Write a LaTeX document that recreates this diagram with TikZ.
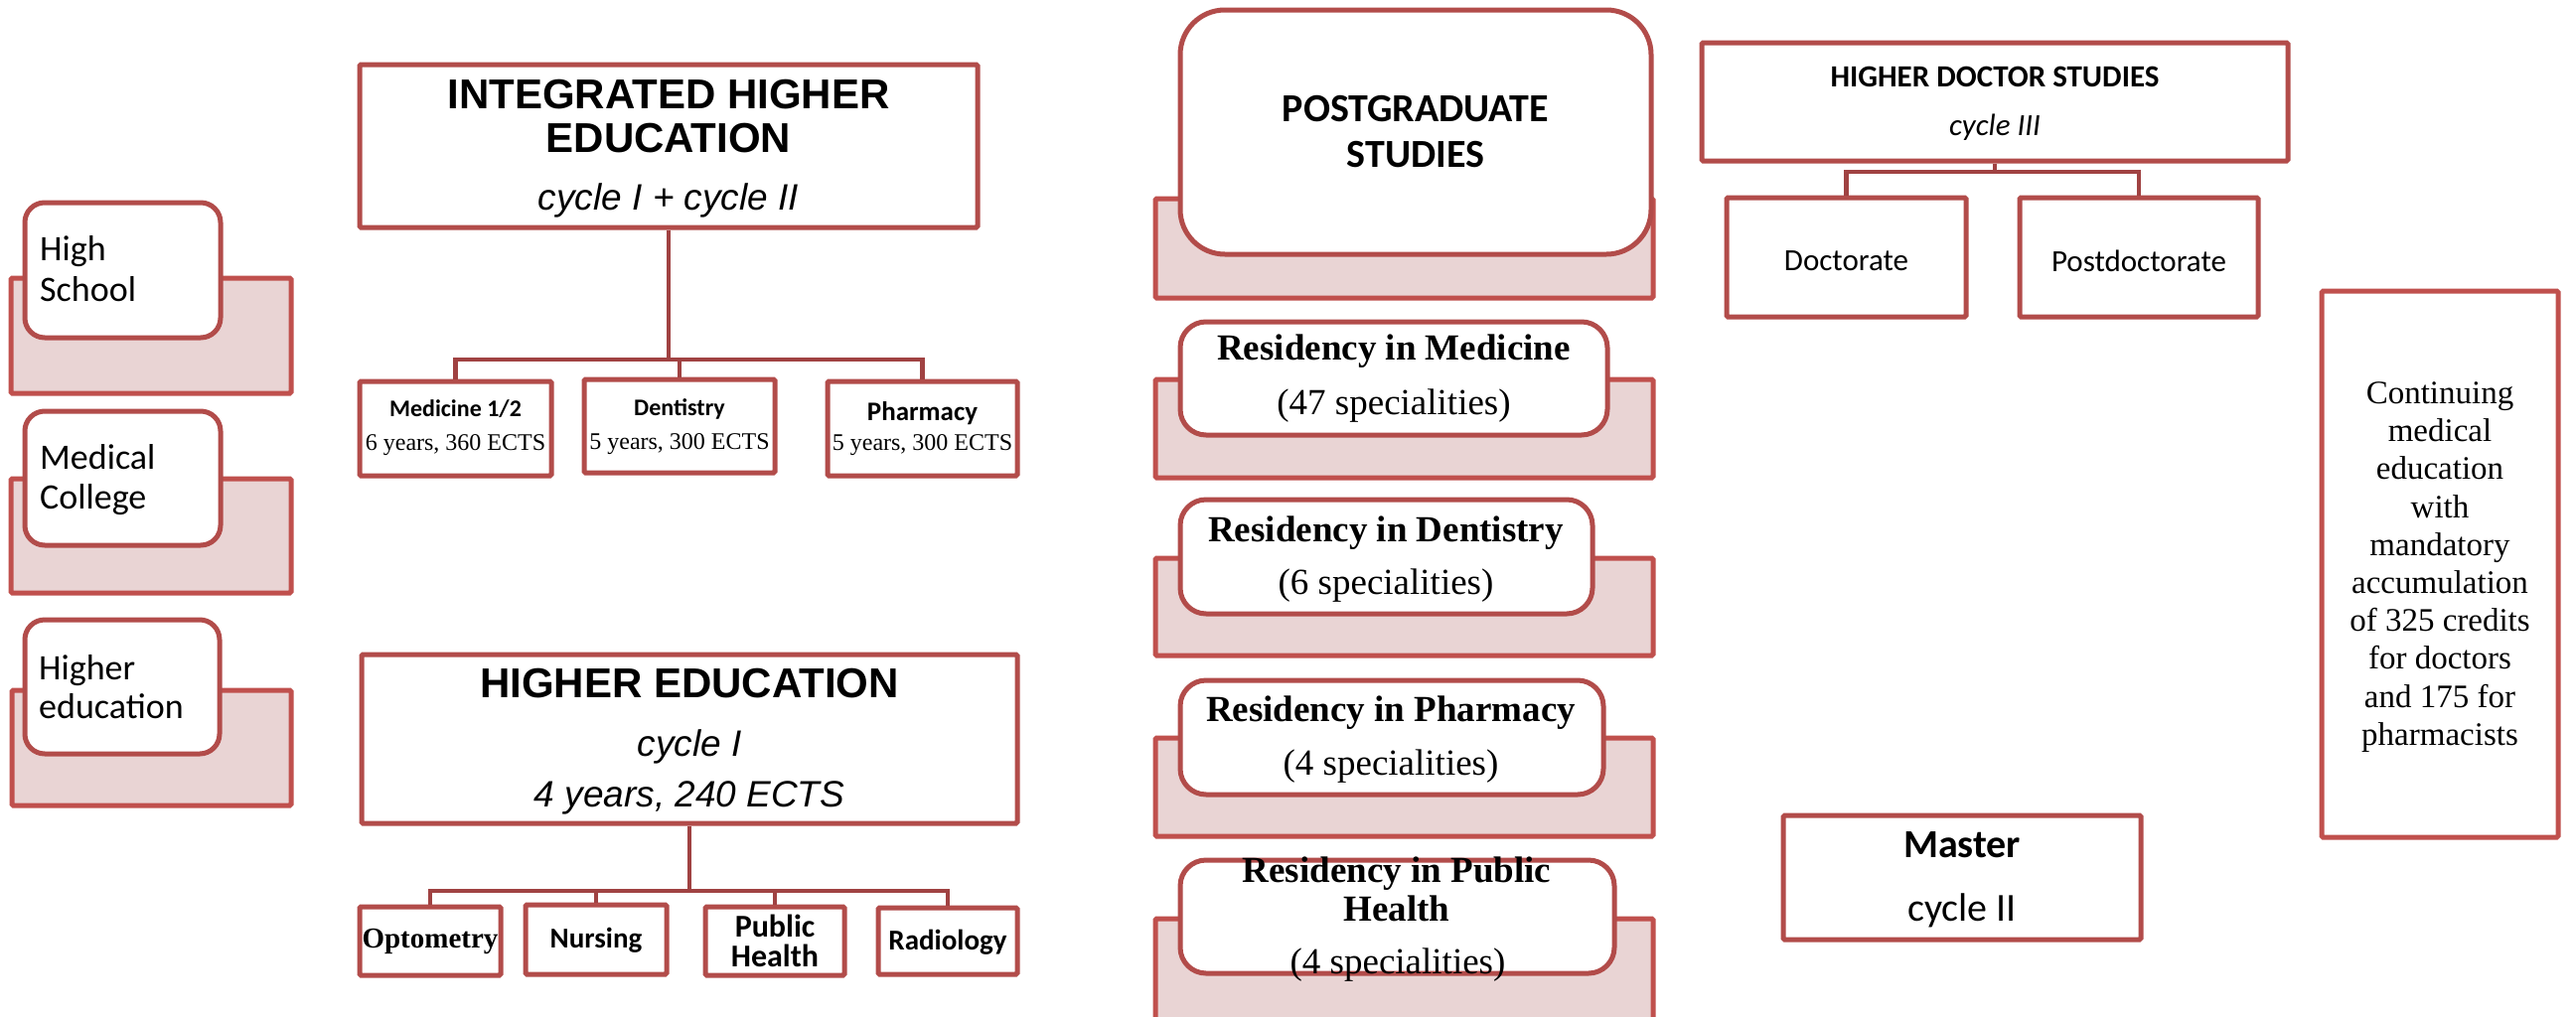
\documentclass[tikz,border=0pt]{standalone}
\usepackage{fontspec}
\setmainfont{Liberation Serif}
\newfontfamily\arialf{Liberation Sans}
\newfontfamily\calibf{Carlito}
\newcommand{\fsz}[1]{\fontsize{#1pt}{#1pt}\selectfont}
\definecolor{boxedge}{HTML}{B24C4A}
\definecolor{shedge}{HTML}{C0504D}
\definecolor{shfill}{HTML}{E9D4D4}
\definecolor{connc}{HTML}{A04242}
\begin{document}
\begin{tikzpicture}[x=1pt,y=-1pt,
  plainbox/.style={draw=boxedge, line width=5pt, fill=white, inner sep=0pt, rectangle, rounded corners=1.5pt},
  softbox/.style={plainbox, rounded corners=20pt},
  resbox/.style={plainbox, rounded corners=26pt},
  shadowrect/.style={draw=shedge, line width=5pt, fill=shfill, rounded corners=1.5pt},
  conn/.style={draw=connc, line width=4.5pt},
  txt/.style={inner sep=0pt, text=black},
  leftlbl/.style={txt, anchor=west, font=\calibf\fsz{36}},
  bigsans/.style={txt, font=\arialf\bfseries\fsz{42}},
  itsans/.style={txt, font=\arialf\itshape\fsz{37}},
  smalltitle/.style={txt, font=\calibf\bfseries\fsz{24}},
  smallsub/.style={txt, font=\fsz{24}},
  leaf/.style={txt, font=\calibf\bfseries\fsz{29}},
  restitle/.style={txt, font=\bfseries\fsz{37}},
  ressub/.style={txt, font=\fsz{37}},
  doclbl/.style={txt, font=\calibf\fsz{31}}
]
\useasboundingbox (0,0) rectangle (2593,1023);
\fill[white] (0,0) rectangle (2593,1023);
\clip (0,0) rectangle (2593,1023);

% ---------- shadow rectangles ----------
\draw[shadowrect] (11,280) rectangle (293,396);
\draw[shadowrect] (11,482) rectangle (293,597);
\draw[shadowrect] (12,695) rectangle (293,811);
\draw[shadowrect] (1163,200) rectangle (1664,300);
\draw[shadowrect] (1163,382) rectangle (1664,481);
\draw[shadowrect] (1163,562) rectangle (1664,660);
\draw[shadowrect] (1163,743) rectangle (1664,842);
\draw[shadowrect] (1163,925) rectangle (1664,1045);

% ---------- left column ----------
\node[softbox, minimum width=197pt, minimum height=136pt] (hs) at (123.5,272) {};
\node[softbox, minimum width=197pt, minimum height=135pt] (mc) at (123.5,481.5) {};
\node[softbox, minimum width=196pt, minimum height=135pt] (hel) at (123,691.5) {};
\node[leftlbl] (hs-t1) at (40,253) {High};
\node[leftlbl] (hs-t2) at (40,291) {School};
\node[leftlbl] (mc-t1) at (40,460) {Medical};
\node[leftlbl] (mc-t2) at (40,503) {College};
\node[leftlbl] (hel-t1) at (39,675) {Higher};
\node[leftlbl] (hel-t2) at (39,711) {education};

% ---------- integrated higher education ----------
\node[plainbox, minimum width=622pt, minimum height=164pt] (int) at (673,147) {};
\node[bigsans] (int-t1) at (673,95) {INTEGRATED HIGHER};
\node[bigsans] (int-t2) at (673,139) {EDUCATION};
\node[itsans] (int-t3) at (673,202) {cycle I + cycle II};

\node[plainbox, minimum width=193pt, minimum height=95pt] (med) at (458.5,431.5) {};
\node[plainbox, minimum width=192pt, minimum height=94pt] (den) at (684,429) {};
\node[plainbox, minimum width=191pt, minimum height=95pt] (pha) at (928.5,431.5) {};
\node[smalltitle] (med-t1) at (458.5,411.5) {Medicine 1/2};
\node[smallsub] (med-t2) at (458.5,448) {6 years, 360 ECTS};
\node[smalltitle] (den-t1) at (684,412) {Dentistry};
\node[smallsub] (den-t2) at (684,447) {5 years, 300 ECTS};
\node[txt, font=\calibf\bfseries\fsz{27}] (pha-t1) at (928.5,416) {Pharmacy};
\node[smallsub] (pha-t2) at (928.5,448) {5 years, 300 ECTS};

\coordinate (intbar) at (673,362);
\draw[conn] (int.south) -- (intbar);
\draw[conn] (med.north) |- (pha.north |- intbar) -- (pha.north);
\draw[conn] (den.north) -- (den.north |- intbar);

% ---------- higher education ----------
\node[plainbox, minimum width=660pt, minimum height=170pt] (hed) at (694,744) {};
\node[bigsans] (hed-t1) at (694,688) {HIGHER EDUCATION};
\node[itsans] (hed-t2) at (694,752) {cycle I};
\node[itsans] (hed-t3) at (694,803) {4 years, 240 ECTS};

\node[plainbox, minimum width=142pt, minimum height=69pt] (opt) at (433,947.5) {};
\node[plainbox, minimum width=142pt, minimum height=70pt] (nur) at (600,946) {};
\node[plainbox, minimum width=140pt, minimum height=69pt] (pub) at (780,947.5) {};
\node[plainbox, minimum width=140pt, minimum height=67pt] (rad) at (954,947.5) {};
\node[txt, font=\bfseries\fsz{29}] (opt-t) at (433,948.5) {Optometry};
\node[leaf] (nur-t) at (600,947) {Nursing};
\node[txt, font=\calibf\bfseries\fsz{32}] (pub-t1) at (780,932) {Public};
\node[txt, font=\calibf\bfseries\fsz{32}] (pub-t2) at (780,962.5) {Health};
\node[leaf] (rad-t) at (954,949) {Radiology};

\coordinate (hebar) at (694,897);
\draw[conn] (hed.south) -- (hebar);
\draw[conn] (opt.north) |- (rad.north |- hebar) -- (rad.north);
\draw[conn] (nur.north) -- (nur.north |- hebar);
\draw[conn] (pub.north) -- (pub.north |- hebar);

% ---------- postgraduate ----------
\node[plainbox, rounded corners=45pt, minimum width=474pt, minimum height=246pt] (pg) at (1425,133) {};
\node[txt, font=\calibf\bfseries\fsz{40}] (pg-t1) at (1425,110) {POSTGRADUATE};
\node[txt, font=\calibf\bfseries\fsz{40}] (pg-t2) at (1425,156) {STUDIES};

\node[resbox, minimum width=430pt, minimum height=114pt] (rm) at (1403,381) {};
\node[restitle] (rm-t1) at (1403,354) {Residency in Medicine};
\node[ressub] (rm-t2) at (1403,409) {(47 specialities)};

\node[resbox, minimum width=415pt, minimum height=115pt] (rd) at (1395.5,560.5) {};
\node[restitle] (rd-t1) at (1395,536.5) {Residency in Dentistry};
\node[ressub] (rd-t2) at (1395,590) {(6 specialities)};

\node[resbox, minimum width=426pt, minimum height=115pt] (rp) at (1401,742.5) {};
\node[restitle] (rp-t1) at (1400,718) {Residency in Pharmacy};
\node[ressub] (rp-t2) at (1400,771.5) {(4 specialities)};

\node[resbox, minimum width=437pt, minimum height=114pt] (rph) at (1406.5,923) {};
\node[restitle] (rph-t1) at (1406,879.5) {Residency in Public};
\node[restitle] (rph-t2) at (1406,915) {Health};
\node[ressub] (rph-t3) at (1407,972) {(4 specialities)};

% ---------- higher doctor studies ----------
\node[plainbox, minimum width=590pt, minimum height=119pt] (hds) at (2008,102.5) {};
\node[txt, font=\calibf\bfseries\fsz{31}] (hds-t1) at (2008,77.5) {HIGHER DOCTOR STUDIES};
\node[txt, font=\calibf\itshape\fsz{31}] (hds-t2) at (2008,128.5) {cycle III};
\node[plainbox, minimum width=241pt, minimum height=120pt] (doc) at (1858.5,259) {};
\node[plainbox, minimum width=240pt, minimum height=120pt] (pdoc) at (2153,259) {};
\node[doclbl] (doc-t) at (1858.5,262.5) {Doctorate};
\node[doclbl] (pdoc-t) at (2153,262.5) {Postdoctorate};
\coordinate (hdsbar) at (2008,173);
\draw[conn] (hds.south) -- (hdsbar);
\draw[conn] (doc.north) |- (pdoc.north |- hdsbar) -- (pdoc.north);

% ---------- master ----------
\node[plainbox, minimum width=360pt, minimum height=125pt] (mas) at (1975,883.5) {};
\node[txt, font=\calibf\bfseries\fsz{40}] (mas-t1) at (1975,851) {Master};
\node[txt, font=\calibf\fsz{40}] (mas-t2) at (1975,917) {cycle II};

% ---------- continuing medical education ----------
\node[plainbox, draw=shedge, minimum width=238pt, minimum height=550pt] (cme) at (2456,568) {};
\node[txt, align=center, font=\fontsize{33pt}{38.2pt}\selectfont] (cme-t) at (2456,571)
  {Continuing\\medical\\education\\with\\mandatory\\accumulation\\of 325 credits\\for doctors\\and 175 for\\pharmacists};
\end{tikzpicture}
\end{document}
